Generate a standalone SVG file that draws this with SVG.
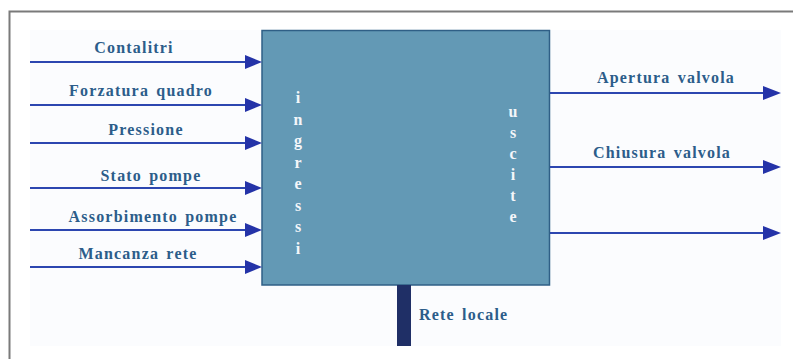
<svg xmlns="http://www.w3.org/2000/svg" width="793" height="359" viewBox="0 0 793 359">
<defs>
<style>
.lbl{font-family:"Liberation Serif","Times New Roman",serif;font-weight:bold;font-size:16px;fill:#2c5d8a;letter-spacing:1.2px;word-spacing:2px}
.vert{font-family:"Liberation Serif","Times New Roman",serif;font-weight:bold;font-size:16px;fill:#f4f6fa;text-anchor:middle}
.wire{stroke:#2c46b0;stroke-width:2;fill:none}
.head{fill:#2433a8}
</style>
</defs>
<rect x="0" y="0" width="793" height="359" fill="#ffffff"/>
<rect x="30" y="30" width="751" height="316" fill="#fbfcfe"/>
<path d="M9.5 359 V11.5 H793" stroke="#7a7a7a" stroke-width="2" fill="none"/>
<g id="controller">
<rect x="262" y="30.5" width="287.5" height="254.5" fill="#6399b5" stroke="#2f5f86" stroke-width="1.5"/>
<g class="vert">
<text x="298" y="103">i</text><text x="298" y="124.5">n</text><text x="298" y="146">g</text><text x="298" y="167.5">r</text><text x="298" y="189">e</text><text x="298" y="210.5">s</text><text x="298" y="232">s</text><text x="298" y="253.5">i</text>
<text x="513" y="117">u</text><text x="513" y="138">s</text><text x="513" y="159">c</text><text x="513" y="180">i</text><text x="513" y="201">t</text><text x="513" y="222">e</text>
</g>
</g>
<g id="connectors">
<path class="wire" d="M30 62H248M30 105H248M30 143H248M30 188H248M30 230H248M30 267H248"/>
<path class="head" d="M245 55L262 62L245 69ZM245 98L262 105L245 112ZM245 136L262 143L245 150ZM245 181L262 188L245 195ZM245 223L262 230L245 237ZM245 260L262 267L245 274Z"/>
<path class="wire" d="M550 93H767M550 167H767M550 233H767"/>
<path class="head" d="M763 86L781 93L763 100ZM763 160L781 167L763 174ZM763 226L781 233L763 240Z"/>
<rect x="397" y="285" width="14" height="61" fill="#1f2f66"/>
</g>
<g id="in-contalitri"><text class="lbl" x="134" y="53" text-anchor="middle">Contalitri</text></g>
<g id="in-forzatura"><text class="lbl" x="141" y="96" text-anchor="middle">Forzatura quadro</text></g>
<g id="in-pressione"><text class="lbl" x="146" y="135" text-anchor="middle">Pressione</text></g>
<g id="in-stato"><text class="lbl" x="151" y="181" text-anchor="middle">Stato pompe</text></g>
<g id="in-assorbimento"><text class="lbl" x="153" y="222" text-anchor="middle">Assorbimento pompe</text></g>
<g id="in-mancanza"><text class="lbl" x="138" y="259" text-anchor="middle">Mancanza rete</text></g>
<g id="out-apertura"><text class="lbl" x="666" y="83" text-anchor="middle">Apertura valvola</text></g>
<g id="out-chiusura"><text class="lbl" x="662" y="158" text-anchor="middle">Chiusura valvola</text></g>
<g id="rete-locale"><text class="lbl" x="419" y="320">Rete locale</text></g>
</svg>
